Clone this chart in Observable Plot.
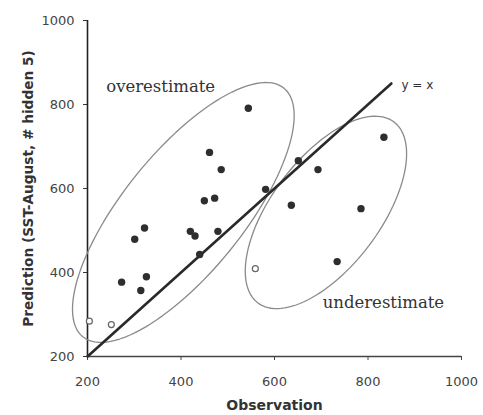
<!DOCTYPE html>
<html>
<head>
<meta charset="utf-8">
<script src="https://cdn.jsdelivr.net/npm/d3@7"></script>
<script src="https://cdn.jsdelivr.net/npm/@observablehq/plot@0.6"></script>
<style>
  html, body { margin: 0; padding: 0; background: #fff; }
</style>
</head>
<body>
<div id="chart"></div>
<script>
// Observation vs prediction values
const observation = [544, 461, 486, 450, 472, 420, 430, 479, 440, 322, 301, 273, 326, 314, 204, 251, 581, 651, 693, 636, 834, 785, 734, 559];
const prediction  = [791, 686, 645, 571, 577, 498, 487, 498, 443, 506, 479, 377, 390, 357, 284, 276, 598, 666, 645, 560, 722, 552, 426, 409];
const hollow      = [false,false,false,false,false,false,false,false,false,false,false,false,false,false,true,true,false,false,false,false,false,false,false,true];

const xTicks = [200, 400, 600, 800, 1000];
const yTicks = [200, 400, 600, 800, 1000];

// y = x reference line
const lineX = [200, 850];

// Ellipse outlines (data units): center and two conjugate half-axis vectors
const ellipseNames = ["overestimate", "underestimate"];
const ellipseCX = [405, 710];
const ellipseCY = [543, 543];
const ellipseU = [[215, 296], [146, 215]];
const ellipseV = [[100, -90], [92, -79]];

// Annotation labels
const labelText = ["overestimate", "underestimate"];
const labelX = [240, 703];
const labelY = [843, 329];

const points = observation.map((o, i) => ({obs: o, pred: prediction[i], hollow: hollow[i]}));
const refLine = lineX.map(v => ({x: v, y: v}));

const ellipsePts = [];
ellipseNames.forEach((name, k) => {
  const n = 120;
  for (let i = 0; i <= n; i++) {
    const t = (i / n) * 2 * Math.PI;
    ellipsePts.push({
      name,
      x: ellipseCX[k] + ellipseU[k][0] * Math.cos(t) + ellipseV[k][0] * Math.sin(t),
      y: ellipseCY[k] + ellipseU[k][1] * Math.cos(t) + ellipseV[k][1] * Math.sin(t)
    });
  }
});

const labels = labelText.map((t, i) => ({text: t, x: labelX[i], y: labelY[i]}));

const chart = Plot.plot({
  width: 483,
  height: 415,
  marginLeft: 87,
  marginRight: 22,
  marginTop: 20,
  marginBottom: 59,
  x: {domain: [200, 1000]},
  y: {domain: [200, 1000]},
  style: {fontFamily: "DejaVu Sans", fontSize: "13px", color: "#444", background: "#fff"},
  marks: [
    Plot.axisX({ticks: xTicks, tickSize: 4, tickPadding: 16, tickFormat: d3.format("d"), label: null, stroke: "#444"}),
    Plot.axisY({ticks: yTicks, tickSize: 4, tickPadding: 9, tickFormat: d3.format("d"), label: null, stroke: "#333"}),
    Plot.ruleY([200], {stroke: "#444", strokeWidth: 1.5}),
    Plot.ruleX([200], {stroke: "#222", strokeWidth: 1.6}),
    Plot.line(ellipsePts, {x: "x", y: "y", z: "name", stroke: "#8a8a8a", strokeWidth: 1.3, curve: "linear"}),
    Plot.line(refLine, {x: "x", y: "y", stroke: "#2a2a2a", strokeWidth: 2.6}),
    Plot.dot(points.filter(d => !d.hollow), {x: "obs", y: "pred", r: 3.7, fill: "#2e2e2e", stroke: "none"}),
    Plot.dot(points.filter(d => d.hollow), {x: "obs", y: "pred", r: 3, fill: "#fff", stroke: "#666", strokeWidth: 1.2}),
    Plot.text(["y = x"], {x: () => lineX[1], y: () => lineX[1], dx: 10, dy: 2, textAnchor: "start", fontSize: 12, fill: "#333"}),
    Plot.text(labels, {x: "x", y: "y", text: "text", textAnchor: "start", fontFamily: "DejaVu Serif", fontSize: 16.5, fill: "#333"}),
    Plot.text(["Observation"], {frameAnchor: "bottom", dy: 49, textAnchor: "middle", lineAnchor: "middle", fontWeight: "bold", fontSize: 14, fill: "#333"}),
    Plot.text(["Prediction (SST-August, # hidden 5)"], {frameAnchor: "left", dx: -59, rotate: -90, textAnchor: "middle", lineAnchor: "middle", fontWeight: "bold", fontSize: 13.7, fill: "#333"})
  ]
});

document.getElementById("chart").appendChild(chart);
</script>
</body>
</html>
